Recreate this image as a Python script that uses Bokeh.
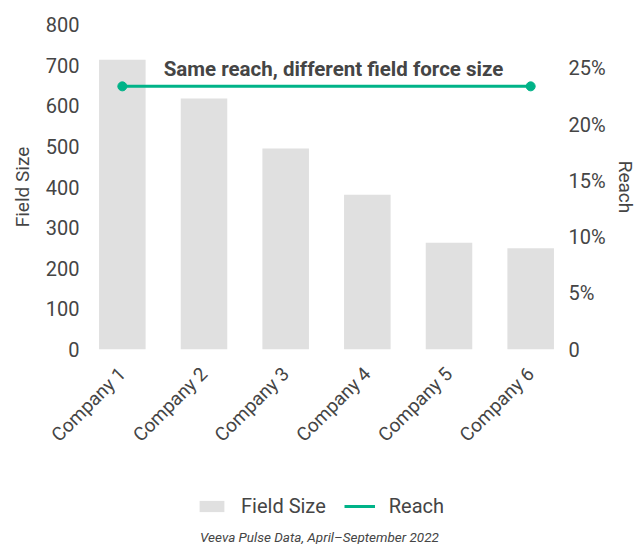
from math import pi
from bokeh.plotting import figure
from bokeh.layouts import column
from bokeh.models import (ColumnDataSource, Range1d, LinearAxis, FixedTicker,
                          Legend, LegendItem, Label, FactorRange)
from bokeh.embed import file_html
from bokeh.resources import INLINE

companies = ["Company 1", "Company 2", "Company 3", "Company 4", "Company 5", "Company 6"]
field_size = [713, 618, 495, 381, 263, 249]
reach_pct = [23.4, 23.4, 23.4, 23.4, 23.4, 23.4]
left_ticks = [0, 100, 200, 300, 400, 500, 600, 700, 800]
right_ticks = [0, 5, 10, 15, 20, 25]
right_labels = ["0", "5%", "10%", "15%", "20%", "25%"]
series_names = ["Field Size", "Reach"]
title_text = "Same reach, different field force size"
footer_text = "Veeva Pulse Data, April\u2013September 2022"

TEXT = "#454545"
BAR = "#e0e0e0"
GREEN = "#00b388"
FONT = "Roboto"

src = ColumnDataSource(dict(x=companies, fs=field_size, reach=reach_pct))
ends = ColumnDataSource(dict(x=[companies[0], companies[-1]],
                             reach=[reach_pct[0], reach_pct[-1]]))
xr = FactorRange(*companies)

# ---------------- main chart ----------------
p = figure(width=639, height=470, x_range=xr,
           y_range=Range1d(0, 800), output_backend="svg", toolbar_location=None,
           min_border_left=81, min_border_right=68, min_border_top=24,
           min_border_bottom=121)
p.outline_line_color = None
p.background_fill_color = "white"
p.border_fill_color = "white"
p.xgrid.grid_line_color = None
p.ygrid.grid_line_color = None
p.extra_y_ranges = {"reach": Range1d(0, 28.9)}

p.vbar(x="x", top="fs", width=0.57, source=src, fill_color=BAR, line_color=None)
p.line(x="x", y="reach", source=src, y_range_name="reach",
       line_color=GREEN, line_width=3)
p.scatter(x="x", y="reach", source=ends, y_range_name="reach", size=9,
          fill_color=GREEN, line_color=GREEN)

ya = p.yaxis[0]
ya.ticker = FixedTicker(ticks=left_ticks)
ya.axis_label = "Field Size"

ra = LinearAxis(y_range_name="reach", ticker=FixedTicker(ticks=right_ticks),
                axis_label="Reach")
ra.major_label_overrides = {t: l for t, l in zip(right_ticks, right_labels)}
p.add_layout(ra, "right")

xa = p.xaxis[0]
for ax in [ya, ra, xa]:
    ax.axis_line_color = None
    ax.major_tick_line_color = None
    ax.minor_tick_line_color = None
    ax.major_tick_out = 0
    ax.major_tick_in = 0
    ax.minor_tick_out = 0
    ax.major_label_text_font = FONT
    ax.major_label_text_font_size = "20px"
    ax.major_label_text_color = TEXT
    ax.axis_label_text_font = FONT
    ax.axis_label_text_font_size = "19px"
    ax.axis_label_text_font_style = "normal"
    ax.axis_label_text_color = TEXT

ya.major_label_standoff = 2
ya.axis_label_standoff = 9
ra.major_label_standoff = -3
ra.axis_label_standoff = 5
xa.major_label_orientation = pi / 4
xa.major_label_standoff = 21
xa.major_label_text_font_size = "19px"

p.add_layout(Label(x=252, y=281, x_units="screen", y_units="screen", text=title_text,
                   text_align="center", text_baseline="middle", text_font=FONT,
                   text_font_size="20.5px", text_font_style="bold", text_color=TEXT))

# ---------------- legend + source strip ----------------
q = figure(width=639, height=74, x_range=xr, y_range=Range1d(74, 0),
           output_backend="svg", toolbar_location=None,
           min_border_left=81, min_border_right=68,
           min_border_top=0, min_border_bottom=0)
q.axis.visible = False
q.grid.visible = False
q.outline_line_color = None
q.background_fill_color = "white"
q.border_fill_color = "white"

# hidden twins of the series, used only for the legend swatches
swatch_bar = q.vbar(x="x", top="fs", width=0.57, source=src, fill_color=BAR,
                    line_color=None, visible=False)
swatch_line = q.line(x="x", y="reach", source=src, line_color=GREEN, line_width=3,
                     visible=False)

legend = Legend(items=[LegendItem(label=series_names[0], renderers=[swatch_bar]),
                       LegendItem(label=series_names[1], renderers=[swatch_line])],
                orientation="horizontal", location=(115, 26),
                border_line_color=None, background_fill_alpha=0,
                inactive_fill_alpha=0,
                padding=0, margin=0, spacing=18,
                glyph_width=31, glyph_height=14, label_height=14,
                label_standoff=14, label_text_font=FONT,
                label_text_font_size="20px", label_text_color=TEXT)
q.add_layout(legend, "center")

q.add_layout(Label(x=238, y=66, x_units="screen", text=footer_text,
                   text_align="center", text_baseline="middle", text_font=FONT,
                   text_font_size="13.5px", text_font_style="italic", text_color=TEXT))

open("out.html", "w").write(file_html(column(p, q, spacing=0), INLINE))
